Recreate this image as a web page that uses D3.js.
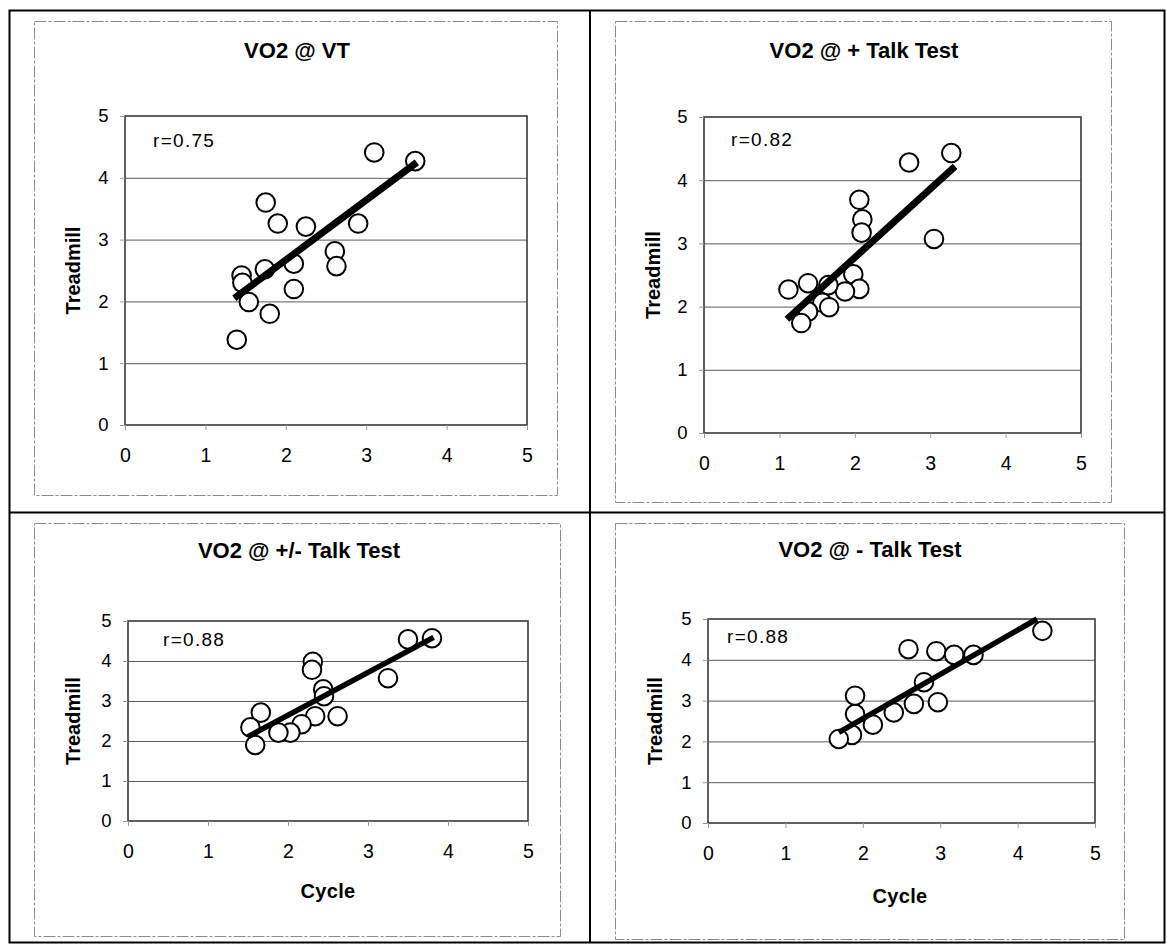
<!DOCTYPE html>
<html><head><meta charset="utf-8">
<script src="https://cdn.jsdelivr.net/npm/d3@7"></script>
<style>body{margin:0;background:#fff} svg{display:block}</style>
</head><body><svg id="c" width="1167" height="945"></svg>
<script>
// ---------- DATA ----------
const panelTitles = ["VO2 @ VT", "VO2 @ + Talk Test", "VO2 @ +/- Talk Test", "VO2 @ - Talk Test"];
const rLabels = ["r=0.75", "r=0.82", "r=0.88", "r=0.88"];
const axisTicks = [0, 1, 2, 3, 4, 5];
const xAxisTitle = "Cycle";
const yAxisTitle = "Treadmill";

// Panel 1: VO2 @ VT
const vtCycle     = [3.10, 3.61, 1.75, 1.90, 2.25, 2.90, 2.61, 2.63, 2.10, 1.74, 1.45, 1.46, 2.10, 1.54, 1.80, 1.39];
const vtTreadmill = [4.41, 4.27, 3.60, 3.26, 3.21, 3.26, 2.81, 2.57, 2.61, 2.52, 2.42, 2.30, 2.20, 1.99, 1.80, 1.38];
const vtTrendX = [1.36, 3.63];
const vtTrendY = [2.05, 4.25];

// Panel 2: VO2 @ + Talk Test
const posCycle     = [3.28, 2.72, 2.06, 2.10, 2.09, 3.05, 1.98, 2.06, 1.87, 1.12, 1.38, 1.65, 1.57, 1.66, 1.38, 1.29];
const posTreadmill = [4.43, 4.28, 3.69, 3.38, 3.17, 3.07, 2.51, 2.28, 2.24, 2.27, 2.37, 2.34, 2.06, 1.99, 1.92, 1.74];
const posTrendX = [1.10, 3.33];
const posTrendY = [1.80, 4.22];

// Panel 3: VO2 @ +/- Talk Test
const pmCycle     = [3.80, 3.50, 2.31, 2.30, 3.25, 2.44, 2.45, 2.34, 2.62, 2.17, 2.03, 1.88, 1.66, 1.53, 1.59];
const pmTreadmill = [4.57, 4.54, 3.98, 3.78, 3.57, 3.29, 3.12, 2.62, 2.62, 2.42, 2.21, 2.21, 2.71, 2.34, 1.90];
const pmTrendX = [1.50, 3.82];
const pmTrendY = [2.11, 4.59];

// Panel 4: VO2 @ - Talk Test
const negCycle     = [4.32, 2.59, 2.95, 3.18, 3.43, 2.79, 2.66, 2.97, 2.40, 2.13, 1.90, 1.90, 1.86, 1.69];
const negTreadmill = [4.71, 4.26, 4.21, 4.12, 4.12, 3.45, 2.92, 2.96, 2.71, 2.41, 3.12, 2.67, 2.16, 2.06];
const negTrendX = [1.69, 4.25];
const negTrendY = [2.22, 5.00];

// ---------- LAYOUT ----------
const layout = [
  {box:[34,21,557,495],  plot:[125,116,527,425], title:[297,58], ylab:80,  xlab:null,     r:[153,147], lw:7},
  {box:[615,21,1111,502],plot:[704,117,1081,433],title:[864,58], ylab:660, xlab:null,     r:[731,146], lw:7},
  {box:[34,523,560,936], plot:[128,621,528,821], title:[299,558],ylab:80,  xlab:[328,898],r:[163,646], lw:5.5},
  {box:[615,523,1124,939],plot:[708,619,1095,823],title:[870,557],ylab:662, xlab:[900,903],r:[727,643], lw:5.5}
];
const series = [
  {x: vtCycle,  y: vtTreadmill,  tx: vtTrendX,  ty: vtTrendY},
  {x: posCycle, y: posTreadmill, tx: posTrendX, ty: posTrendY},
  {x: pmCycle,  y: pmTreadmill,  tx: pmTrendX,  ty: pmTrendY},
  {x: negCycle, y: negTreadmill, tx: negTrendX, ty: negTrendY}
];

const FONT = "Arial, 'Liberation Sans', Helvetica, sans-serif";
const svg = d3.select("#c");

// outer frame and dividers
svg.append("rect").attr("x",9.5).attr("y",10.5).attr("width",1155).attr("height",932)
  .attr("fill","none").attr("stroke","#000").attr("stroke-width",2);
svg.append("line").attr("x1",590).attr("x2",590).attr("y1",10).attr("y2",943)
  .attr("stroke","#000").attr("stroke-width",2);
svg.append("line").attr("x1",9).attr("x2",1165).attr("y1",512.5).attr("y2",512.5)
  .attr("stroke","#000").attr("stroke-width",2);

layout.forEach((L, i) => {
  const s = series[i];
  const g = svg.append("g");
  // chart area box
  g.append("rect").attr("x",L.box[0]+0.5).attr("y",L.box[1]+0.5)
    .attr("width",L.box[2]-L.box[0]).attr("height",L.box[3]-L.box[1])
    .attr("fill","none").attr("stroke","#8c8c8c").attr("stroke-width",1)
    .attr("stroke-dasharray","12,2,3,2");

  const [pl,pt,pr,pb] = L.plot;
  const x = d3.scaleLinear().domain([0,5]).range([pl,pr]);
  const y = d3.scaleLinear().domain([0,5]).range([pb,pt]);

  // gridlines
  g.append("g").attr("transform",`translate(${pl},0)`)
    .call(d3.axisLeft(y).tickValues([1,2,3,4]).tickSize(-(pr-pl)).tickFormat(""))
    .call(a => a.select(".domain").remove())
    .call(a => a.selectAll("line").attr("stroke","#5a5a5a").attr("stroke-width",1));

  // plot border
  g.append("rect").attr("x",pl).attr("y",pt).attr("width",pr-pl).attr("height",pb-pt)
    .attr("fill","none").attr("stroke","#3a3a3a").attr("stroke-width",1.6);

  // axes
  g.append("g").attr("transform",`translate(0,${pb})`)
    .call(d3.axisBottom(x).tickValues(axisTicks).tickSize(5).tickPadding(18).tickFormat(d3.format("d")))
    .call(a => a.select(".domain").remove())
    .call(a => a.selectAll("line").attr("stroke","#999"))
    .call(a => a.selectAll("text").attr("font-family",FONT).attr("font-size",19.5).attr("fill","#000"));
  g.append("g").attr("transform",`translate(${pl},0)`)
    .call(d3.axisLeft(y).tickValues(axisTicks).tickSize(5).tickPadding(11.5).tickFormat(d3.format("d")))
    .call(a => a.select(".domain").remove())
    .call(a => a.selectAll("line").attr("stroke","#999"))
    .call(a => a.selectAll("text").attr("font-family",FONT).attr("font-size",18.5).attr("fill","#000"));

  // points
  const pts = s.x.map((v,j) => [v, s.y[j]]);
  g.append("g").selectAll("circle").data(pts).join("circle")
    .attr("cx", d => x(d[0])).attr("cy", d => y(d[1])).attr("r", 9.3)
    .attr("fill","#fff").attr("stroke","#000").attr("stroke-width",2);

  // trend line
  g.append("line").attr("x1",x(s.tx[0])).attr("y1",y(s.ty[0]))
    .attr("x2",x(s.tx[1])).attr("y2",y(s.ty[1]))
    .attr("stroke","#000").attr("stroke-width",L.lw);

  // r label
  g.append("text").attr("x",L.r[0]).attr("y",L.r[1]).text(rLabels[i])
    .attr("font-family",FONT).attr("font-size",19).attr("letter-spacing",1.3);

  // title
  g.append("text").attr("x",L.title[0]).attr("y",L.title[1]).attr("text-anchor","middle")
    .text(panelTitles[i]).attr("font-family",FONT).attr("font-weight","bold")
    .attr("font-size",22);

  // y axis title
  g.append("text").attr("transform",`translate(${L.ylab},${(pt+pb)/2}) rotate(-90)`)
    .attr("text-anchor","middle").text(yAxisTitle)
    .attr("font-family",FONT).attr("font-weight","bold").attr("font-size",20);

  // x axis title
  if (L.xlab) {
    g.append("text").attr("x",L.xlab[0]).attr("y",L.xlab[1]).attr("text-anchor","middle")
      .text(xAxisTitle).attr("font-family",FONT).attr("font-weight","bold")
      .attr("font-size",20).attr("letter-spacing",0.3);
  }
});
</script></body></html>
